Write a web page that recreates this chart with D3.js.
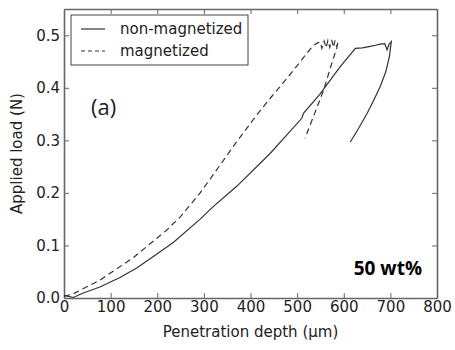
<!DOCTYPE html>
<html>
<head>
<meta charset="utf-8">
<script src="https://cdn.jsdelivr.net/npm/d3@7"></script>
<style>
  body { margin: 0; background: #fff; }
  svg text { font-family: "DejaVu Sans", sans-serif; fill: #222; }
</style>
</head>
<body>
<div id="chart"></div>
<script>
// Chart size
var width = 455;
var height = 350;
var margin = {top: 9, right: 18, bottom: 52, left: 64};

// non-magnetized curve (depth in um, load in N): loading then unloading
var nonMagDepth = [0, 10, 20, 40, 77, 120, 156, 200, 235, 292, 320, 371, 442, 510, 514, 549, 592, 625, 640, 657, 668, 678, 688, 693, 697, 702, 698, 690, 678, 664, 650, 632, 614];
var nonMagLoad  = [0.005, 0.003, 0.001, 0.009, 0.021, 0.039, 0.057, 0.084, 0.106, 0.15, 0.174, 0.213, 0.275, 0.342, 0.352, 0.388, 0.44, 0.475, 0.476, 0.479, 0.481, 0.483, 0.484, 0.472, 0.483, 0.488, 0.46, 0.43, 0.402, 0.376, 0.351, 0.323, 0.297];

// magnetized curve
var magDepth = [0, 20, 77, 149, 220, 250, 292, 334, 370, 413, 445, 478, 500, 521, 535, 545, 550, 553, 558, 562, 566, 570, 574, 578, 581, 585, 588, 585, 572, 557, 537, 517];
var magLoad  = [0.003, 0.008, 0.034, 0.077, 0.129, 0.155, 0.2, 0.252, 0.297, 0.348, 0.383, 0.418, 0.442, 0.466, 0.481, 0.486, 0.487, 0.475, 0.489, 0.476, 0.49, 0.477, 0.491, 0.477, 0.49, 0.478, 0.489, 0.476, 0.44, 0.396, 0.35, 0.304];

var xTicks = [0, 100, 200, 300, 400, 500, 600, 700, 800];
var yTicks = [0.0, 0.1, 0.2, 0.3, 0.4, 0.5];
var legendLabels = ["non-magnetized", "magnetized"];

var svg = d3.select("#chart").append("svg")
  .attr("width", width)
  .attr("height", height);

var x = d3.scaleLinear().domain([0, 800]).range([margin.left, width - margin.right]);
var y = d3.scaleLinear().domain([0, 0.55]).range([height - margin.bottom, margin.top]);

var axisColor = "#666";
var lineColor = "#333";

// ticks pointing inward on every side
function styleAxis(g) {
  g.select(".domain").attr("stroke", axisColor).attr("stroke-width", 1.6);
  g.selectAll(".tick line").attr("stroke", axisColor).attr("stroke-width", 1);
  g.selectAll("text").attr("font-size", 15).attr("fill", "#222");
}

svg.append("g")
  .attr("transform", "translate(0," + y(0) + ")")
  .call(d3.axisBottom(x).tickValues(xTicks).tickSizeInner(-5).tickSizeOuter(0).tickPadding(3))
  .call(styleAxis);
svg.append("g")
  .attr("transform", "translate(0," + y(0.55) + ")")
  .call(d3.axisTop(x).tickValues(xTicks).tickSizeInner(-5).tickSizeOuter(0).tickFormat(""))
  .call(styleAxis);
svg.append("g")
  .attr("transform", "translate(" + x(0) + ",0)")
  .call(d3.axisLeft(y).tickValues(yTicks).tickSizeInner(-5).tickSizeOuter(0).tickPadding(4).tickFormat(d3.format(".1f")))
  .call(styleAxis);
svg.append("g")
  .attr("transform", "translate(" + x(800) + ",0)")
  .call(d3.axisRight(y).tickValues(yTicks).tickSizeInner(-5).tickSizeOuter(0).tickFormat(""))
  .call(styleAxis);

// curves
var line = d3.line()
  .x(function(d) { return x(d[0]); })
  .y(function(d) { return y(d[1]); });

svg.append("path")
  .datum(d3.zip(nonMagDepth, nonMagLoad))
  .attr("d", line)
  .attr("fill", "none")
  .attr("stroke", lineColor)
  .attr("stroke-width", 1.2);

svg.append("path")
  .datum(d3.zip(magDepth, magLoad))
  .attr("d", line)
  .attr("fill", "none")
  .attr("stroke", lineColor)
  .attr("stroke-width", 1.2)
  .attr("stroke-dasharray", "6,4");

// legend
var legend = svg.append("g");
legend.append("rect")
  .attr("x", 71).attr("y", 15)
  .attr("width", 177).attr("height", 50)
  .attr("fill", "#fff")
  .attr("stroke", "#444")
  .attr("stroke-width", 1);
var items = legend.selectAll("g.item")
  .data(legendLabels)
  .enter()
  .append("g")
  .attr("class", "item")
  .attr("transform", function(d, i) { return "translate(0," + (29 + i * 22) + ")"; });
items.append("line")
  .attr("x1", 81).attr("x2", 105)
  .attr("stroke", lineColor)
  .attr("stroke-width", 1.2)
  .attr("stroke-dasharray", function(d, i) { return i === 1 ? "4,3" : null; });
items.append("text")
  .attr("x", 120)
  .attr("dy", "0.35em")
  .attr("font-size", 15)
  .text(function(d) { return d; });

// annotations
svg.append("text")
  .attr("x", 91).attr("y", 115)
  .attr("font-size", 22)
  .style("font-family", "'Open Sans', sans-serif")
  .text("(a)");
svg.append("text")
  .attr("x", 422).attr("y", 275)
  .attr("text-anchor", "end")
  .attr("font-size", 19)
  .attr("font-weight", "bold")
  .style("font-family", "'Open Sans', sans-serif")
  .style("fill", "#000")
  .text("50 wt%");

// axis titles
svg.append("text")
  .attr("x", (x(0) + x(800)) / 2)
  .attr("y", 337)
  .attr("text-anchor", "middle")
  .attr("font-size", 15)
  .text("Penetration depth (μm)");
svg.append("text")
  .attr("transform", "translate(22," + y(0.275) + ") rotate(-90)")
  .attr("text-anchor", "middle")
  .attr("font-size", 15)
  .text("Applied load (N)");
</script>
</body>
</html>
